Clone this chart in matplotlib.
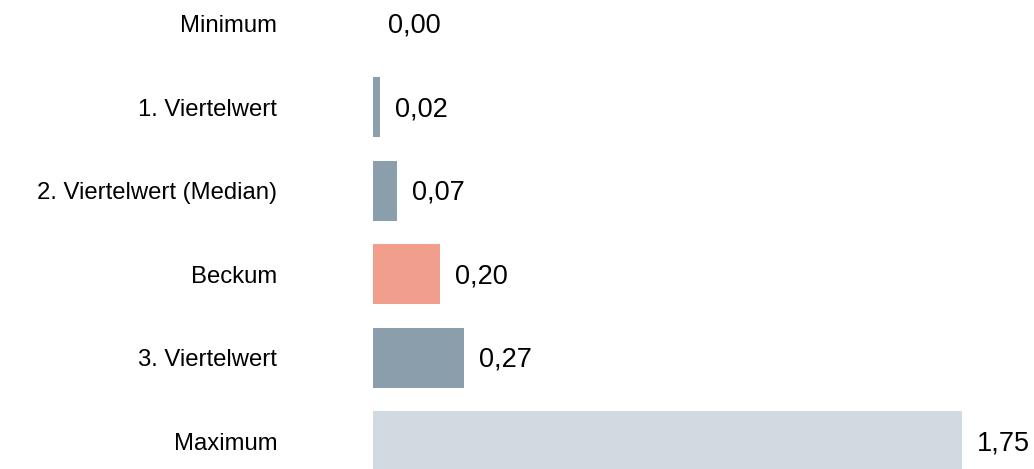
import matplotlib.pyplot as plt
from matplotlib.transforms import offset_copy

plt.rcParams['font.family'] = ['Liberation Sans', 'DejaVu Sans']

# data
categories = ["Minimum", "1. Viertelwert", "2. Viertelwert (Median)", "Beckum",
              "3. Viertelwert", "Maximum"]
values = [0.00, 0.02, 0.07, 0.20, 0.27, 1.75]
colors = ["#8A9FAB", "#8A9FAB", "#8A9FAB", "#F29E8D", "#8A9FAB", "#D1DAE0"]

fig = plt.figure(figsize=(10.34, 4.69), dpi=100)
ax = fig.add_axes([373 / 1034, 0, 661 / 1034, 1])

pos = list(range(len(categories)))
ax.barh(pos, values, height=0.72, color=colors)

ax.set_xlim(0, 661 / 336.6)
ax.set_ylim((469 - 24) / 83.4, -24 / 83.4)

ax.set_yticks(pos)
ax.set_yticklabels(categories, fontsize=17.2, color="black")
ax.tick_params(axis="y", length=0, pad=69)
ax.set_xticks([])
for s in ax.spines.values():
      s.set_visible(False)

trans = offset_copy(ax.transData, fig=fig, x=15, y=-2, units="dots")
for p, v in zip(pos, values):
      ax.text(v, p, f"{v:.2f}".replace(".", ","), transform=trans,
              va="center", ha="left", fontsize=19.5, color="black")

fig.savefig("out.png", dpi=100)
